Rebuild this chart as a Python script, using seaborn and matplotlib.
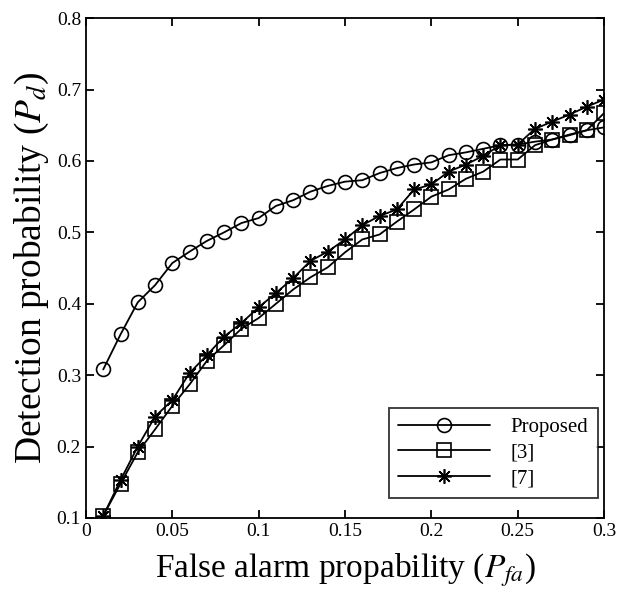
import numpy as np
import pandas as pd
import matplotlib
matplotlib.use("Agg")
import matplotlib.pyplot as plt
import seaborn as sns

pfa = [0.01, 0.02, 0.03, 0.04, 0.05, 0.06, 0.07, 0.08, 0.09, 0.10,
       0.11, 0.12, 0.13, 0.14, 0.15, 0.16, 0.17, 0.18, 0.19, 0.20,
       0.21, 0.22, 0.23, 0.24, 0.25, 0.26, 0.27, 0.28, 0.29, 0.30]
proposed = [0.308, 0.357, 0.402, 0.426, 0.457, 0.473, 0.488, 0.500, 0.513, 0.520,
            0.537, 0.545, 0.557, 0.565, 0.571, 0.573, 0.583, 0.590, 0.595, 0.598,
            0.608, 0.612, 0.617, 0.622, 0.623, 0.627, 0.630, 0.637, 0.643, 0.647]
ref3 = [0.103, 0.148, 0.192, 0.224, 0.257, 0.287, 0.320, 0.342, 0.365, 0.380,
        0.400, 0.420, 0.437, 0.451, 0.472, 0.490, 0.497, 0.515, 0.532, 0.550,
        0.560, 0.575, 0.585, 0.602, 0.602, 0.622, 0.630, 0.636, 0.643, 0.667]
ref7 = [0.103, 0.153, 0.200, 0.242, 0.265, 0.303, 0.328, 0.354, 0.373, 0.395,
        0.415, 0.436, 0.460, 0.473, 0.490, 0.510, 0.523, 0.532, 0.560, 0.567,
        0.585, 0.595, 0.607, 0.622, 0.623, 0.645, 0.655, 0.665, 0.676, 0.686]
series_names = ["Proposed", "[3]", "[7]"]
x_ticks = [0, 0.05, 0.1, 0.15, 0.2, 0.25, 0.3]
x_tick_labels = ["0", "0.05", "0.1", "0.15", "0.2", "0.25", "0.3"]
y_ticks = [0.1, 0.2, 0.3, 0.4, 0.5, 0.6, 0.7, 0.8]
y_tick_labels = ["0.1", "0.2", "0.3", "0.4", "0.5", "0.6", "0.7", "0.8"]

sns.set_style("ticks")
plt.rcParams['font.family'] = ['Liberation Serif', 'DejaVu Serif']
plt.rcParams['mathtext.fontset'] = 'stix'
plt.rcParams['text.color'] = 'black'
plt.rcParams['axes.labelcolor'] = 'black'
plt.rcParams['xtick.color'] = 'black'
plt.rcParams['ytick.color'] = 'black'
plt.rcParams['xtick.direction'] = 'in'
plt.rcParams['ytick.direction'] = 'in'

df = pd.DataFrame({
    "pfa": pfa * 3,
    "pd": proposed + ref3 + ref7,
    "method": [series_names[0]] * len(pfa) + [series_names[1]] * len(pfa) + [series_names[2]] * len(pfa),
})

fig = plt.figure(figsize=(6.44, 5.94), dpi=100)
ax = fig.add_axes([0.1335, 0.128, 0.8045, 0.8415])

markers = {"Proposed": "o", "[3]": "s", "[7]": (8, 2, 0)}
fills = {"Proposed": "none", "[3]": "none", "[7]": "black"}
sizes = {"Proposed": 10, "[3]": 10, "[7]": 10.5}
for name in series_names:
    sub = df[df["method"] == name]
    sns.lineplot(data=sub, x="pfa", y="pd", ax=ax, color="black", lw=1.3,
                 marker=markers[name], markersize=sizes[name],
                 markerfacecolor=fills[name], markeredgecolor="black",
                 markeredgewidth=1.2, label=name)

ax.set_xlim(0, 0.3)
ax.set_ylim(0.1, 0.8)
ax.set_xticks(x_ticks)
ax.set_xticklabels(x_tick_labels)
ax.set_yticks(y_ticks)
ax.set_yticklabels(y_tick_labels)
ax.tick_params(axis='both', labelsize=14, direction='in', length=6, width=1.3,
               top=True, right=True, color='black', labelcolor='black')
for s in ax.spines.values():
    s.set_visible(True)
    s.set_linewidth(1.3)
    s.set_color('black')

ax.set_xlabel(r"False alarm propability ($P_{fa}$)", fontsize=24, labelpad=8, color='black')
ax.set_ylabel(r"Detection probability ($P_{d}$)", fontsize=27, labelpad=4, color='black')

leg = ax.legend(loc="lower right", fontsize=15, frameon=True, fancybox=False,
                edgecolor="black", handlelength=4.4, borderpad=0.45,
                labelspacing=0.3, handletextpad=1.0, borderaxespad=0,
                bbox_to_anchor=(0.988, 0.04))
leg.get_frame().set_linewidth(1.3)
for t in leg.get_texts():
    t.set_color('black')

fig.savefig("out.png", dpi=100)
